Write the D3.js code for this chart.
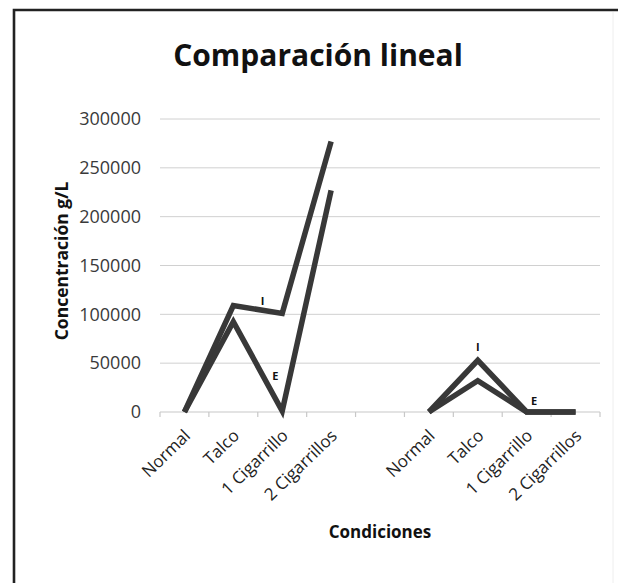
<!DOCTYPE html>
<html><head><meta charset="utf-8">
<script src="https://cdn.jsdelivr.net/npm/d3@7"></script>
<style>body{margin:0;background:#fff}svg{display:block}</style>
</head><body><svg id="c" width="618" height="583"></svg>
<script>
const categories = ["Normal","Talco","1 Cigarrillo","2 Cigarrillos","","Normal","Talco","1 Cigarrillo","2 Cigarrillos"];
const seriesI_group1 = [0, 109000, 101000, 277000];
const seriesE_group1 = [0, 92500, 1000, 227000];
const seriesI_group2 = [0, 53000, 0, 0];
const seriesE_group2 = [0, 32000, 0, 0];
const yTicks = [0, 50000, 100000, 150000, 200000, 250000, 300000];

const svg = d3.select("#c");
const font = "'Open Sans', sans-serif";
const x0 = 160, x1 = 600, yTop = 119, yBot = 412;
const x = d3.scaleBand().domain(d3.range(categories.length)).range([x0, x1]);
const y = d3.scaleLinear().domain([0, 300000]).range([yBot, yTop]);

// frame
svg.append("path").attr("d", "M14,583 V10 H618").attr("fill","none").attr("stroke","#222").attr("stroke-width",2.6);
svg.append("line").attr("x1",613).attr("x2",613).attr("y1",12).attr("y2",583).attr("stroke","#eee").attr("stroke-width",1);

// title
svg.append("text").attr("x", 318).attr("y", 66).attr("text-anchor","middle")
  .attr("font-family", font).attr("font-weight","bold").attr("font-size", 30).attr("fill","#111")
  .text("Comparación lineal");

// gridlines
svg.append("g").selectAll("line").data(yTicks.slice(1)).join("line")
  .attr("x1", x0).attr("x2", x1).attr("y1", d=>y(d)).attr("y2", d=>y(d))
  .attr("stroke","#d0d0d0").attr("stroke-width",1);

// y axis labels
const yAxis = svg.append("g").attr("transform",`translate(${x0},0)`)
  .call(d3.axisLeft(y).tickValues(yTicks).tickSize(0).tickPadding(19).tickFormat(d3.format("d")));
yAxis.select(".domain").remove();
yAxis.selectAll("text").attr("font-family", font).attr("font-size", 18).attr("fill","#3a3a3a");

// x axis
const xAxisG = svg.append("g").attr("transform",`translate(0,${yBot})`);
xAxisG.append("line").attr("x1",x0).attr("x2",x1).attr("stroke","#c8c8c8").attr("stroke-width",1.2);
xAxisG.selectAll("line.t").data(d3.range(categories.length+1)).join("line").attr("class","t")
  .attr("x1", i=> i<categories.length ? x(i) : x1).attr("x2", i=> i<categories.length ? x(i) : x1)
  .attr("y1",0).attr("y2",5).attr("stroke","#c8c8c8").attr("stroke-width",1.2);
xAxisG.selectAll("text").data(categories.map((c,i)=>({c,i})).filter(d=>d.c)).join("text")
  .attr("transform", d=>`translate(${x(d.i)+x.bandwidth()/2+7},${25}) rotate(-44)`)
  .attr("text-anchor","end").attr("font-family", font).attr("font-size", 17).attr("fill","#222")
  .text(d=>d.c);

// axis titles
svg.append("text").attr("transform","translate(68,261) rotate(-90)").attr("text-anchor","middle")
  .attr("font-family", font).attr("font-weight","bold").attr("font-size", 17.5).attr("fill","#111")
  .text("Concentración g/L");
svg.append("text").attr("x", 380).attr("y", 538).attr("text-anchor","middle")
  .attr("font-family", font).attr("font-weight","bold").attr("font-size", 17).attr("fill","#111")
  .text("Condiciones");

// lines
const line = d3.line().x(d=>x(d[0])+x.bandwidth()/2).y(d=>y(d[1])).curve(d3.curveLinear);
const data = [
  {v: seriesI_group1, off: 0}, {v: seriesE_group1, off: 0},
  {v: seriesI_group2, off: 5}, {v: seriesE_group2, off: 5}
];
svg.append("g").selectAll("path").data(data).join("path")
  .attr("d", d=>line(d.v.map((v,i)=>[i+d.off, v])))
  .attr("fill","none").attr("stroke","#383838").attr("stroke-width",5.5).attr("stroke-linejoin","miter");

// labels
const labels = [
  {t:"I", i:1.6, v:106000}, {t:"E", i:1.86, v:30000},
  {t:"I", i:6.0, v:59000}, {t:"E", i:7.15, v:4000}
];
svg.append("g").selectAll("text").data(labels).join("text")
  .attr("x", d=>x(0)+x.bandwidth()*(d.i+0.5)).attr("y", d=>y(d.v)-3)
  .attr("text-anchor","middle").attr("font-family", font).attr("font-weight","bold").attr("font-size", 11).attr("fill","#111")
  .text(d=>d.t);
</script></body></html>
